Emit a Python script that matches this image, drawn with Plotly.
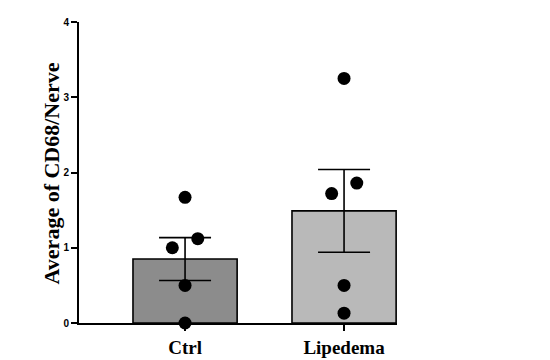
import plotly.graph_objects as go

categories = ["Ctrl", "Lipedema"]
means = [0.85, 1.49]
sem = [0.285, 0.55]
ctrl_points = [1.67, 1.12, 1.0, 0.5, 0.0]
lip_points = [3.25, 1.86, 1.72, 0.5, 0.13]
ctrl_jitter = [0.0, 0.08, -0.08, 0.0, 0.0]
lip_jitter = [0.0, 0.08, -0.078, 0.0, 0.0]
y_ticks = [0, 1, 2, 3, 4]
y_title = "Average of CD68/Nerve"

xpos = list(range(len(categories)))

fig = go.Figure()
fig.add_trace(go.Bar(
    x=xpos, y=means, width=0.655,
    marker=dict(color=["#8c8c8c", "#b9b9b9"], line=dict(color="black", width=1.6)),
    error_y=dict(type="data", array=sem, visible=True, color="black", thickness=1.6, width=26),
    showlegend=False,
))
fig.add_trace(go.Scatter(
    x=[xpos[0] + j for j in ctrl_jitter] + [xpos[1] + j for j in lip_jitter],
    y=ctrl_points + lip_points,
    mode="markers",
    marker=dict(color="black", size=13),
    cliponaxis=False,
    showlegend=False,
))

fig.add_annotation(
    text=y_title, xref="paper", yref="paper", x=0, y=0.497,
    xanchor="center", yanchor="middle", xshift=-28, textangle=-90,
    showarrow=False,
    font=dict(family="Liberation Serif", size=22, color="black", weight="bold"),
)

fig.update_layout(
    width=542, height=352,
    margin=dict(l=71, r=153, t=14, b=37, autoexpand=False),
    paper_bgcolor="white", plot_bgcolor="white",
    xaxis=dict(
        range=[-0.667, 1.333], tickvals=xpos, ticktext=categories,
        showline=True, linecolor="black", linewidth=2,
        ticks="outside", ticklen=6, tickwidth=2, tickcolor="black",
        tickfont=dict(family="Liberation Serif", size=19, color="black", weight="bold"),
        showgrid=False, zeroline=False, automargin=False,
    ),
    yaxis=dict(
        range=[0, 4], tickvals=y_ticks,
        showline=True, linecolor="black", linewidth=2,
        ticks="outside", ticklen=6, tickwidth=2, tickcolor="black",
        tickfont=dict(family="Liberation Sans", size=10, color="black", weight="bold"),
        showgrid=False, zeroline=False, automargin=False,
    ),
)

fig.write_html("out.html")
